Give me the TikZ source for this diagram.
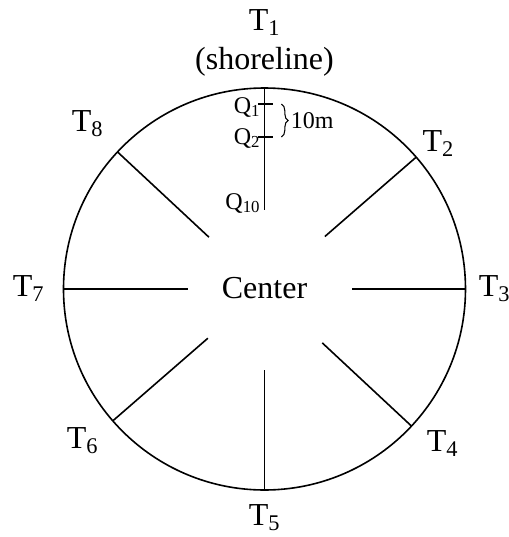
\documentclass[tikz,border=0pt]{standalone}
\usepackage{fontspec}
\setmainfont{Liberation Serif}
\usetikzlibrary{calc,decorations.pathreplacing}

\begin{document}
\begin{tikzpicture}[x=0.75pt,y=0.75pt]

     \tikzstyle{every node}=[inner sep=0pt]
     \tikzstyle{tlabel}=[font=\fontsize{24}{28}\selectfont]
     \tikzstyle{qlabel}=[font=\fontsize{18}{21}\selectfont,anchor=east]
     \tikzstyle{spoke}=[line width=1.2pt]
     \useasboundingbox (-264.5,-248) rectangle (244.5,289);

     \coordinate (c) at (0,0);
     \draw[spoke] (c) circle (201);
     \node[tlabel] (center) at ($(c)+(0,1)$) {Center};

     % transects: outer end on the circle, inner end near the centre
     \foreach \name/\ang/\rin in {t1/90/79, t2/41/80, t3/0/88, t4/317/79, t5/270/81, t6/221/75, t7/180/76, t8/137/76}{
       \coordinate (\name out) at ($(c)+(\ang:201)$);
       \coordinate (\name in) at ($(c)+(\ang:\rin)$);
       \draw[spoke] (\name out) -- (\name in);
     }

     \node[tlabel] (t1) at ($(c)+(0,266)$) {T\textsubscript{1}};
     \node[tlabel] (shore) at ($(c)+(0,227)$) {(shoreline)};
     \node[tlabel] (t2) at ($(c)+(40:227)$) {T\textsubscript{2}};
     \node[tlabel] (t3) at ($(c)+(0:230)$) {T\textsubscript{3}};
     \node[tlabel] (t4) at ($(c)+(178,-155)$) {T\textsubscript{4}};
     \node[tlabel] (t5) at ($(c)+(270:229)$) {T\textsubscript{5}};
     \node[tlabel] (t6) at ($(c)+(-182,-152)$) {T\textsubscript{6}};
     \node[tlabel] (t7) at ($(c)+(180:236)$) {T\textsubscript{7}};
     \node[tlabel] (t8) at ($(c)+(-177,165)$) {T\textsubscript{8}};

     % quadrats along T1
     \coordinate (q1a) at (-6,185);
     \coordinate (q1b) at (9,185);
     \coordinate (q2a) at (-6,152);
     \coordinate (q2b) at (9,152);
     \draw[line width=1pt] (q1a) -- (q1b);
     \draw[line width=1pt] (q2a) -- (q2b);
     \node[qlabel] (q1) at (-4,182) {Q\textsubscript{1}};
     \node[qlabel] (q2) at (-4,151) {Q\textsubscript{2}};
     \node[qlabel] (q10) at (-4,86) {Q\textsubscript{10}};
     \draw[line width=0.8pt,decorate,decoration={brace,amplitude=5pt}] (17,185) -- (17,152) coordinate[midway] (bmid);
     \node[qlabel,anchor=west] (dist) at ($(bmid)+(9,0)$) {10m};

\end{tikzpicture}
\end{document}
